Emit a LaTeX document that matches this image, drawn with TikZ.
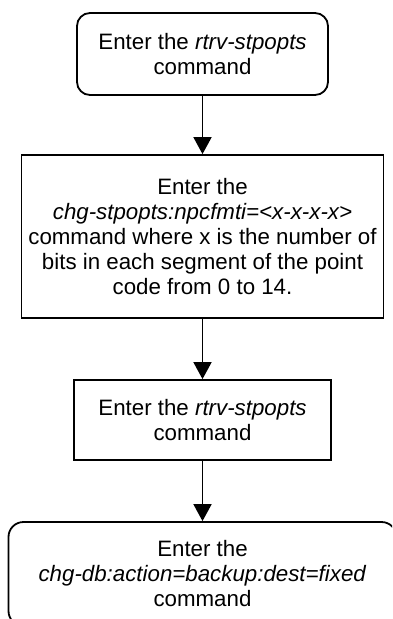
\documentclass[tikz,border=0pt]{standalone}
\usepackage{fontspec}
\setmainfont{Liberation Sans}
\usetikzlibrary{arrows.meta}

\tikzset{
  cmdbox/.style={draw, line width=1.8pt, align=center, inner sep=0pt,
    font=\fontsize{22.3}{25}\selectfont},
  cmdround/.style={cmdbox, rounded corners=13pt},
  flowarrow/.style={-{Triangle[width=18pt,length=17pt]}, line width=1.8pt}
}

\begin{document}
\begin{tikzpicture}[x=1pt, y=-1pt]
\useasboundingbox (0,0) rectangle (392,619);
\clip (0,0) rectangle (392,619);
% boxes
\node[cmdround, minimum width=251pt, minimum height=82pt] (rtrvfirst) at (202.5,54)
    {Enter the \textit{rtrv-stpopts}\\command};
\node[cmdbox, minimum width=362pt, minimum height=163pt] (chgfmt) at (202.5,236.5)
    {Enter the\\\textit{chg-stpopts:npcfmti=<x-x-x-x>}\\command where x is the number of\\bits in each segment of the point\\code from 0 to 14.};
\node[cmdbox, minimum width=257pt, minimum height=80pt] (rtrvsecond) at (202.5,420)
    {Enter the \textit{rtrv-stpopts}\\command};
\node[cmdround, minimum width=388pt, minimum height=104pt, rounded corners=15pt] (backup) at (202.5,574)
    {Enter the\\\textit{chg-db:action=backup:dest=fixed}\\command};
% arrows
\draw[flowarrow] (rtrvfirst.south) -- (chgfmt.north);
\draw[flowarrow] (chgfmt.south) -- (rtrvsecond.north);
\draw[flowarrow] (rtrvsecond.south) -- (backup.north);
\end{tikzpicture}
\end{document}
